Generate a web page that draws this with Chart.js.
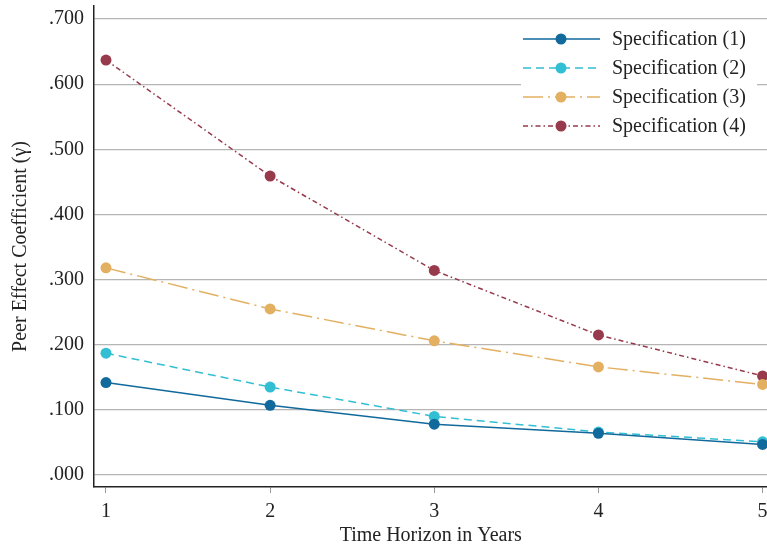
<!DOCTYPE html>
<html lang="en">
<head>
  <meta charset="UTF-8">
  <title>Peer effect by time horizon</title>
  <script src="https://cdn.jsdelivr.net/npm/chart.js@4/dist/chart.umd.min.js"></script>
  <style>
    html, body { margin: 0; padding: 0; background: #fff; overflow: hidden; }
    #wrap { width: 773px; height: 546px; }
  </style>
</head>
<body>
  <div id="wrap"><canvas id="myChart"></canvas></div>
  <script>
    // data
    var horizons = [1, 2, 3, 4, 5]
    var spec1 = [0.142, 0.107, 0.078, 0.064, 0.047]
    var spec2 = [0.187, 0.135, 0.090, 0.066, 0.051]
    var spec3 = [0.318, 0.255, 0.206, 0.166, 0.139]
    var spec4 = [0.637, 0.459, 0.314, 0.215, 0.152]
    var seriesNames = ['Specification (1)', 'Specification (2)', 'Specification (3)', 'Specification (4)']
    var yTicks = [0, 0.1, 0.2, 0.3, 0.4, 0.5, 0.6, 0.7]

    var colors = ['#11699c', '#33bfd3', '#e3b062', '#963a4c']
    var dashes = [[], [8, 5], [20, 5, 2, 5], [5, 3, 1.5, 3]]

    var FONT = '"Liberation Serif", "DejaVu Serif", serif'
    var FS = 20

    function pts(vals) {
      return vals.map((v, i) => ({ x: horizons[i], y: v }))
    }

    var allSeries = [spec1, spec2, spec3, spec4]
    var datasets = allSeries.map((s, i) => ({
      label: seriesNames[i],
      data: pts(s),
      borderColor: colors[i],
      backgroundColor: colors[i],
      borderWidth: 1.5,
      borderDash: dashes[i],
      pointRadius: 5.5,
      pointBorderWidth: 0,
      pointBackgroundColor: colors[i],
      tension: 0,
      clip: false
    }))

    // legend inside the plot, line + marker like the original
    var stataLegend = {
      id: 'stataLegend',
      afterDraw(chart) {
        const ctx = chart.ctx
        ctx.save()
        ctx.fillStyle = '#fff'
        ctx.fillRect(521, 24, 236, 117)
        chart.data.datasets.forEach((ds, i) => {
          const y = 39 + i * 29
          ctx.strokeStyle = ds.borderColor
          ctx.lineWidth = 1.5
          ctx.setLineDash(ds.borderDash)
          ctx.beginPath()
          ctx.moveTo(523, y)
          ctx.lineTo(600, y)
          ctx.stroke()
          ctx.setLineDash([])
          ctx.fillStyle = ds.borderColor
          ctx.beginPath()
          ctx.arc(561, y, 5.5, 0, Math.PI * 2)
          ctx.fill()
          ctx.fillStyle = '#222'
          ctx.font = FS + 'px ' + FONT
          ctx.textBaseline = 'middle'
          ctx.fillText(ds.label, 612, y + 1)
        })
        ctx.restore()
      }
    }

    const ctx = document.getElementById('myChart').getContext('2d')
    const chart = new Chart(ctx, {
      type: 'line',
      data: { datasets: datasets },
      plugins: [stataLegend],
      options: {
        responsive: true,
        maintainAspectRatio: false,
        animation: false,
        layout: { padding: { top: 6, right: 0, left: 9, bottom: 0 } },
        plugins: {
          legend: { display: false },
          tooltip: { enabled: false }
        },
        scales: {
          x: {
            type: 'linear',
            min: 0.927,
            max: 5.03,
            afterBuildTicks: axis => { axis.ticks = horizons.map(v => ({ value: v })) },
            afterFit: axis => { axis.paddingLeft = 0; axis.paddingRight = 0; axis.height = 59 },
            ticks: {
              color: '#222',
              font: { family: FONT, size: FS, lineHeight: 1 },
              padding: 9,
              maxRotation: 0
            },
            grid: { drawOnChartArea: false, color: '#999', tickLength: 6 },
            border: { color: '#222', width: 1.5 },
            title: {
              display: true,
              text: 'Time Horizon in Years',
              color: '#222',
              font: { family: FONT, size: FS, lineHeight: 1 },
              padding: { top: 0, bottom: 0 }
            }
          },
          y: {
            min: -0.0184,
            max: 0.72,
            afterBuildTicks: axis => { axis.ticks = yTicks.map(v => ({ value: v })) },
            afterFit: axis => { axis.paddingTop = 0; axis.paddingBottom = 0 },
            ticks: {
              color: '#222',
              font: { family: FONT, size: FS },
              padding: 10,
              callback: v => '.' + v.toFixed(3).split('.')[1]
            },
            grid: { color: '#b5b5b5', lineWidth: 1.2, drawTicks: false },
            border: { color: '#222', width: 1.5 },
            title: {
              display: true,
              text: 'Peer Effect Coefficient (γ)',
              color: '#222',
              font: { family: FONT, size: FS },
              padding: { top: 0, bottom: 6 }
            }
          }
        }
      }
    })
  </script>
</body>
</html>
